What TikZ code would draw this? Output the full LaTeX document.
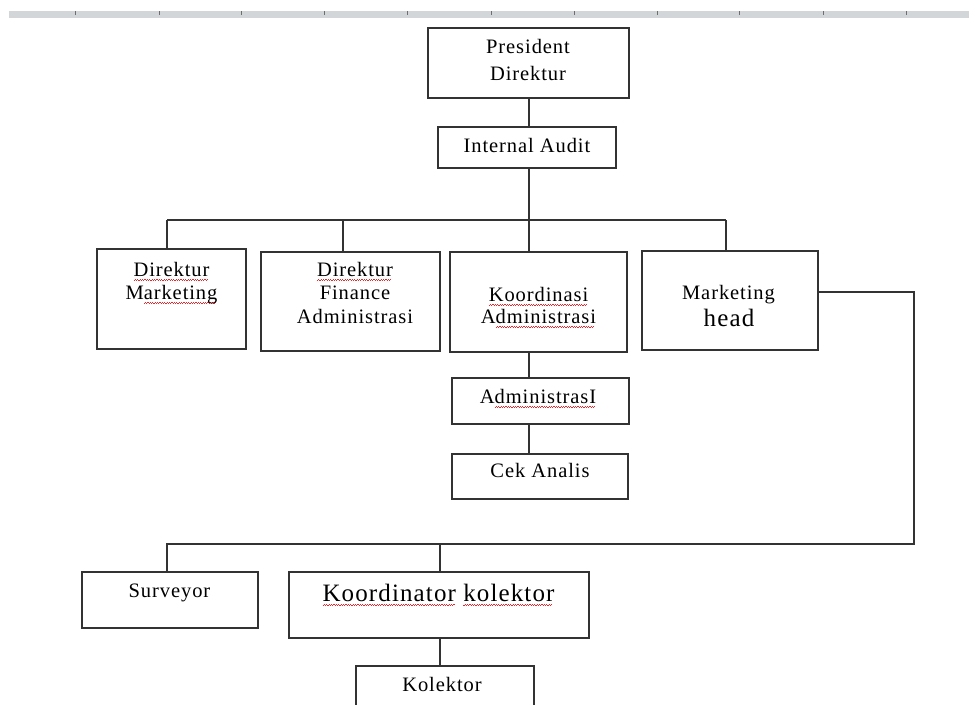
\documentclass[tikz,border=0pt]{standalone}
\usepackage{fontspec}
\setmainfont{Liberation Serif}[LetterSpace=4.5]
\newsavebox\sqbox
\definecolor{sqred}{HTML}{E8282C}
\newcommand\redsq[1]{\sbox\sqbox{#1}\rlap{\textcolor{sqred}{\leaders\hbox{\rule[-4.5pt]{1.2pt}{0.8pt}\rule[-3.5pt]{1.2pt}{0.8pt}}\hskip\wd\sqbox}}\usebox\sqbox}
\definecolor{rulergray}{HTML}{D3D6D9}
\definecolor{tickgray}{HTML}{6E6E6E}
\definecolor{linegray}{HTML}{333333}
\tikzset{
  box/.style={draw=linegray, line width=1.3pt, rectangle, inner sep=0pt, outer sep=0pt},
  conn/.style={draw=linegray, line width=1.3pt},
  lbl/.style={align=center, inner sep=0pt, anchor=base, text=black, font=\fontsize{20.5}{23}\selectfont},
  big/.style={font=\fontsize{25}{28}\selectfont},
}
\begin{document}
\begin{tikzpicture}[x=1pt,y=-1pt]
\useasboundingbox (0,0) rectangle (969,704);
% ruler
\fill[rulergray] (9,11) rectangle (969,17.5);
\foreach \t in {75,159,241,324,407,491,574,657,739,823,906}
  \draw[tickgray, line width=1pt] (\t,11) -- (\t,15);

% boxes
\node[box, minimum width=201, minimum height=70] (pres) at (528.5,63) {};
\node[box, minimum width=178, minimum height=41] (audit) at (527,147.5) {};
\node[box, minimum width=149, minimum height=100] (dm) at (171.5,299) {};
\node[box, minimum width=179, minimum height=99] (dfa) at (350.5,301.5) {};
\node[box, minimum width=177, minimum height=100] (ka) at (538.5,302) {};
\node[box, minimum width=176, minimum height=99] (mh) at (730,300.5) {};
\node[box, minimum width=177, minimum height=46] (adm) at (540.5,401) {};
\node[box, minimum width=176, minimum height=45] (cek) at (540,476.5) {};
\node[box, minimum width=176, minimum height=56] (sur) at (170,600) {};
\node[box, minimum width=300, minimum height=66] (kk) at (439,605) {};
\begin{scope}
\clip (0,0) rectangle (969,704);
\node[box, minimum width=178, minimum height=54] (kol) at (445,693) {};
\end{scope}

% texts (base anchor = baseline of the last line)
\node[lbl, font=\fontsize{20.5}{27}\selectfont] (tpres) at (528,80) {President\\Direktur};
\node[lbl] (taudit) at (527,152) {Internal Audit};
\node[lbl] (tdm) at (171.5,299) {\redsq{Direktur}\\M\redsq{arketing}};
\node[lbl, font=\fontsize{20.5}{23.5}\selectfont] (tdfa) at (355,323) {\redsq{Direktur}\\Finance\\Administrasi};
\node[lbl, font=\fontsize{20.5}{22}\selectfont] (tka) at (538.5,323) {\redsq{Koordinasi}\\A\redsq{dministrasi}};
\node[lbl] (tmh1) at (728.5,299) {Marketing};
\node[lbl, big] (tmh2) at (729,326) {head};
\node[lbl] (tadm) at (538,403) {A\redsq{dministrasI}};
\node[lbl] (tcek) at (540,477) {Cek Analis};
\node[lbl] (tsur) at (169.5,597) {Surveyor};
\node[lbl, big] (tkk) at (438.5,601) {\redsq{Koordinator} \redsq{kolektor}};
\node[lbl] (tkol) at (442,691) {Kolektor};

% connectors
\coordinate (j0) at (529,220);
\coordinate (busL) at (167,220);
\coordinate (busR) at (726,220);
\coordinate (fin) at (343,220);
\draw[conn] (j0 |- pres.south) -- (j0 |- audit.north);
\draw[conn] (j0 |- audit.south) -- (j0);
\draw[conn] (busL) -- (busR);
\draw[conn] (busL) -- (busL |- dm.north);
\draw[conn] (fin) -- (fin |- dfa.north);
\draw[conn] (j0) -- (j0 |- ka.north);
\draw[conn] (busR) -- (busR |- mh.north);
\draw[conn] (j0 |- ka.south) -- (j0 |- adm.north);
\draw[conn] (j0 |- adm.south) -- (j0 |- cek.north);

\coordinate (rt) at (914,292);
\coordinate (rb) at (914,544);
\coordinate (sl) at (167,544);
\coordinate (kj) at (440,544);
\draw[conn] (mh.east |- rt) -- (rt) -- (rb) -- (sl) -- (sl |- sur.north);
\draw[conn] (kj) -- (kj |- kk.north);
\draw[conn] (kj |- kk.south) -- (kj |- kol.north);
\end{tikzpicture}
\end{document}
